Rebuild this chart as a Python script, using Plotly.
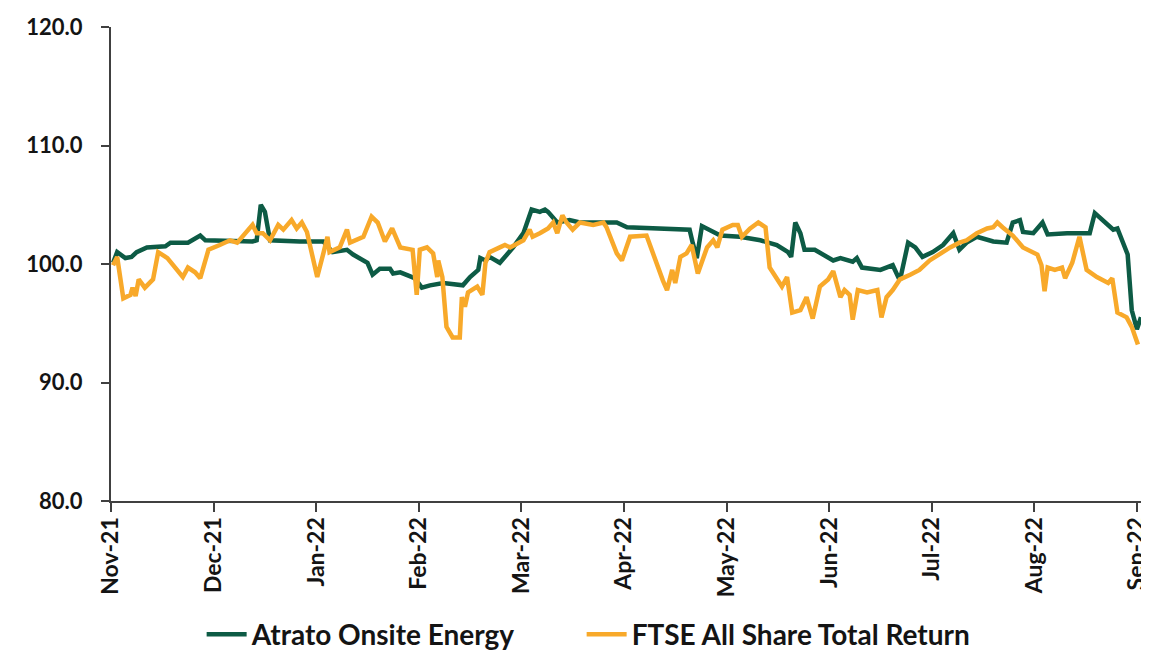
import plotly.graph_objects as go

# Month tick labels (equally spaced on the axis)
month_labels = ["Nov-21", "Dec-21", "Jan-22", "Feb-22", "Mar-22", "Apr-22",
                "May-22", "Jun-22", "Jul-22", "Aug-22", "Sep-22"]

# Atrato Onsite Energy (x in months since Nov-21, rebased index)
atrato_x = [0.02, 0.06, 0.14, 0.20, 0.25, 0.35, 0.53, 0.58, 0.75, 0.87, 0.92, 1.38, 1.42, 1.46, 1.50,
            1.55, 1.84, 2.07, 2.16, 2.30, 2.36, 2.50, 2.55, 2.62, 2.72, 2.75, 2.82, 2.96, 3.03, 3.11,
            3.24, 3.43, 3.50, 3.58, 3.60, 3.65, 3.69, 3.79, 3.92, 4.02, 4.10, 4.18, 4.23, 4.26, 4.35,
            4.47, 4.57, 4.93, 5.03, 5.28, 5.64, 5.67, 5.71, 5.76, 5.87, 5.94, 6.13, 6.33, 6.49, 6.60,
            6.63, 6.67, 6.72, 6.76, 6.86, 7.04, 7.11, 7.23, 7.27, 7.32, 7.50, 7.62, 7.69, 7.77, 7.84,
            7.91, 8.01, 8.11, 8.21, 8.27, 8.34, 8.44, 8.60, 8.73, 8.79, 8.86, 8.89, 8.99, 9.08, 9.13,
            9.32, 9.54, 9.59, 9.67, 9.77, 9.81, 9.86, 9.91, 9.95, 10.00, 10.04]
atrato_y = [100.1, 101.0, 100.5, 100.6, 101.0, 101.4, 101.5, 101.8, 101.8, 102.4, 102.0, 101.9, 102.0, 105.0, 104.4,
            102.0, 101.9, 101.9, 101.0, 101.2, 100.8, 100.1, 99.1, 99.6, 99.6, 99.2, 99.3, 98.8, 98.0, 98.2,
            98.4, 98.2, 98.9, 99.5, 100.5, 100.3, 100.6, 100.1, 101.4, 102.6, 104.6, 104.4, 104.6, 104.4, 103.5,
            103.7, 103.5, 103.5, 103.1, 103.0, 102.9, 101.8, 100.5, 103.2, 102.7, 102.4, 102.3, 102.0, 101.6, 101.0,
            100.6, 103.5, 102.6, 101.2, 101.2, 100.3, 100.5, 100.2, 100.5, 99.7, 99.5, 99.9, 98.6, 101.8, 101.4,
            100.6, 101.0, 101.6, 102.6, 101.2, 101.8, 102.3, 101.9, 101.8, 103.5, 103.7, 102.7, 102.6, 103.5, 102.5,
            102.6, 102.6, 104.3, 103.7, 102.9, 103.0, 102.0, 100.8, 96.1, 94.5, 95.5]

# FTSE All Share Total Return
ftse_x = [0.02, 0.06, 0.12, 0.19, 0.21, 0.24, 0.27, 0.33, 0.41, 0.46, 0.55, 0.70, 0.75, 0.82, 0.87,
          0.95, 1.06, 1.16, 1.23, 1.33, 1.38, 1.42, 1.48, 1.55, 1.63, 1.68, 1.76, 1.81, 1.86, 1.91,
          2.01, 2.07, 2.11, 2.13, 2.23, 2.30, 2.33, 2.46, 2.54, 2.60, 2.67, 2.74, 2.82, 2.94, 2.98,
          3.01, 3.08, 3.14, 3.18, 3.19, 3.23, 3.27, 3.33, 3.40, 3.42, 3.45, 3.48, 3.57, 3.62, 3.65,
          3.69, 3.79, 3.84, 3.89, 4.02, 4.08, 4.11, 4.18, 4.26, 4.31, 4.35, 4.40, 4.44, 4.50, 4.57,
          4.70, 4.80, 4.83, 4.93, 4.98, 5.06, 5.22, 5.28, 5.38, 5.42, 5.47, 5.50, 5.55, 5.61, 5.66,
          5.72, 5.81, 5.87, 5.91, 5.96, 6.06, 6.11, 6.15, 6.23, 6.31, 6.38, 6.42, 6.54, 6.59, 6.64,
          6.72, 6.78, 6.84, 6.91, 6.99, 7.04, 7.11, 7.15, 7.20, 7.23, 7.28, 7.37, 7.47, 7.51, 7.56,
          7.62, 7.69, 7.79, 7.88, 7.98, 8.08, 8.18, 8.27, 8.34, 8.44, 8.54, 8.60, 8.64, 8.69, 8.79,
          8.89, 9.03, 9.07, 9.10, 9.13, 9.20, 9.27, 9.30, 9.37, 9.44, 9.51, 9.61, 9.72, 9.76, 9.81,
          9.90, 9.95, 10.01]
ftse_y = [99.9, 100.6, 97.1, 97.4, 98.0, 97.3, 98.7, 98.0, 98.7, 101.0, 100.5, 98.9, 99.7, 99.3, 98.8,
          101.2, 101.6, 102.0, 101.8, 102.9, 103.3, 102.6, 102.6, 102.0, 103.3, 102.9, 103.7, 103.0, 103.5, 102.7,
          98.9, 100.9, 102.3, 101.0, 101.4, 102.9, 101.8, 102.3, 104.0, 103.5, 101.9, 103.0, 101.4, 101.2, 97.4,
          101.2, 101.4, 100.9, 98.9, 100.3, 98.9, 94.7, 93.8, 93.8, 97.2, 96.4, 97.6, 98.1, 97.4, 100.1,
          101.0, 101.4, 101.6, 101.4, 102.0, 102.9, 102.3, 102.6, 103.0, 103.5, 102.6, 104.1, 103.5, 102.9, 103.5,
          103.3, 103.5, 103.1, 100.9, 100.3, 102.3, 102.4, 100.9, 98.6, 97.8, 99.5, 98.4, 100.6, 100.9, 101.6,
          99.2, 101.4, 102.0, 101.4, 102.9, 103.3, 103.3, 102.3, 103.0, 103.5, 103.1, 99.7, 98.1, 98.9, 95.9,
          96.1, 97.2, 95.4, 98.1, 98.7, 99.4, 97.2, 97.8, 97.4, 95.3, 97.8, 97.6, 97.8, 95.5, 97.2,
          97.8, 98.7, 99.1, 99.5, 100.3, 100.9, 101.4, 101.8, 102.0, 102.6, 103.0, 103.1, 103.5, 103.1, 102.4,
          101.4, 100.8, 99.9, 97.7, 99.7, 99.5, 99.7, 98.8, 100.1, 102.3, 99.5, 98.9, 98.4, 98.8, 95.9,
          95.5, 94.7, 93.2]

GREEN = "#0D5B45"
ORANGE = "#F8A92A"
FONT = "Lato"
TEXT = "#141414"

fig = go.Figure()
fig.add_trace(go.Scatter(x=atrato_x, y=atrato_y, mode="lines", name="Atrato Onsite Energy",
                         line=dict(color=GREEN, width=4.5), legendwidth=325))
fig.add_trace(go.Scatter(x=ftse_x, y=ftse_y, mode="lines", name="FTSE All Share Total Return",
                         line=dict(color=ORANGE, width=4.5), legendwidth=380))

# The page body adds an 8px margin, so the figure is 8px smaller and margins offset by 8px.
fig.update_layout(
    width=1141, height=644,
    margin=dict(l=103, r=8, t=19, b=151, autoexpand=False),
    plot_bgcolor="white", paper_bgcolor="white",
    font=dict(family=FONT, size=22, color=TEXT, weight="bold"),
    showlegend=True,
    legend=dict(orientation="h", x=0.088, xanchor="left", y=-0.282, yanchor="middle",
                font=dict(family=FONT, size=28, color=TEXT, weight="bold"),
                itemwidth=40, entrywidthmode="pixels",
                bgcolor="rgba(0,0,0,0)"),
)
fig.update_xaxes(
    range=[0, 10.04], showgrid=False, zeroline=False, automargin=False,
    tickmode="array", tickvals=list(range(len(month_labels))), ticktext=month_labels,
    tickangle=-90, ticks="outside", ticklen=9, tickwidth=2, tickcolor="#404040",
    showline=True, linecolor="#404040", linewidth=2, ticklabeloverflow="allow",
    ticklabelstandoff=-4,
    tickfont=dict(family=FONT, size=23, color=TEXT, weight="bold"),
)
fig.update_yaxes(
    range=[80, 120], dtick=10, tick0=80, showgrid=False, zeroline=False, automargin=False,
    tickformat=".1f", ticks="outside", ticklen=8, tickwidth=2, tickcolor="#404040",
    showline=True, linecolor="#404040", linewidth=2, ticklabelstandoff=14,
    tickfont=dict(family=FONT, size=22, color=TEXT, weight="bold"),
)

fig.write_html("out.html")
